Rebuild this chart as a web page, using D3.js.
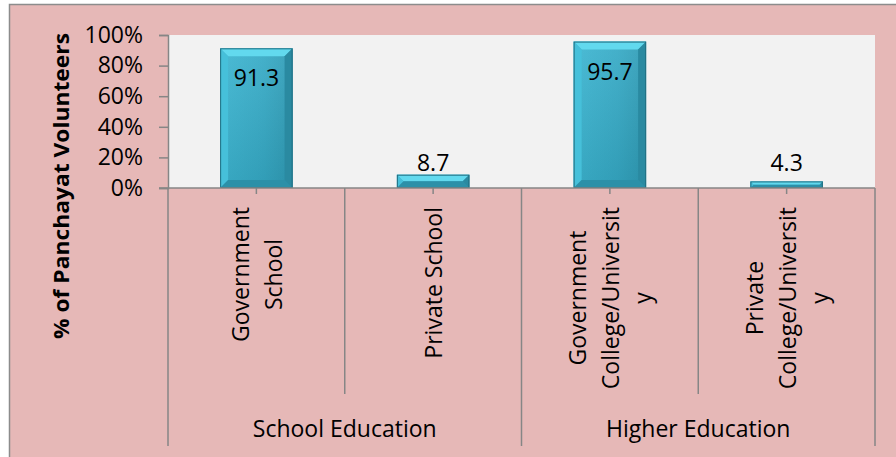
<!DOCTYPE html>
<html>
<head>
<meta charset="utf-8">
<script src="https://cdn.jsdelivr.net/npm/d3@7"></script>
<style>
  html, body { margin: 0; padding: 0; background: #ffffff; }
  svg { display: block; font-family: "Open Sans", "Noto Sans", sans-serif; }
</style>
</head>
<body>
<svg id="chart" width="896" height="457"></svg>
<script>
// Share of panchayat volunteers by type of institution attended
const categories = ["Government School", "Private School", "Government College/University", "Private College/University"];
const categoryLines = [["Government", "School"], ["Private School"], ["Government", "College/Universit", "y"], ["Private", "College/Universit", "y"]];
const groups = ["School Education", "Higher Education"];
const groupOf = [0, 0, 1, 1];
const values = [91.3, 8.7, 95.7, 4.3];
const yTicks = [0, 20, 40, 60, 80, 100];
const yTitle = "% of Panchayat Volunteers";

const svg = d3.select("#chart");
const W = 896, H = 457;
const plot = { left: 168, right: 875, top: 35, bottom: 188 };
const FS = 23;

// chart background with frame
svg.append("rect").attr("x", 0).attr("y", 0).attr("width", W).attr("height", H).attr("fill", "#ffffff");
svg.append("rect").attr("x", 9.5).attr("y", 4.5).attr("width", W).attr("height", H)
  .attr("fill", "#e6b8b7").attr("stroke", "#8c8c8c").attr("stroke-width", 1.5);

// plot area
svg.append("rect").attr("x", plot.left).attr("y", plot.top)
  .attr("width", plot.right - plot.left).attr("height", plot.bottom - plot.top)
  .attr("fill", "#f2f2f2");

const x = d3.scaleBand().domain(categories).range([plot.left, plot.right])
  .paddingInner(0.59).paddingOuter(0.295);
const y = d3.scaleLinear().domain([0, 100]).range([plot.bottom, plot.top]);

// y axis
const yAxis = svg.append("g").attr("transform", `translate(${plot.left},0)`)
  .call(d3.axisLeft(y).tickValues(yTicks).tickFormat(d => d + "%").tickSize(9).tickPadding(16));
yAxis.select(".domain").attr("stroke", "#868686").attr("stroke-width", 1.5);
yAxis.selectAll(".tick line").attr("stroke", "#868686").attr("stroke-width", 1.5);
yAxis.selectAll(".tick text").attr("font-size", FS).attr("fill", "#000")
  .attr("font-family", "'Open Sans', sans-serif");

// y title
svg.append("text")
  .attr("transform", `translate(61,186) rotate(-90)`)
  .attr("text-anchor", "middle").attr("dominant-baseline", "central")
  .attr("font-size", 21).attr("font-weight", "bold").attr("fill", "#000")
  .attr("textLength", 306).attr("lengthAdjust", "spacingAndGlyphs")
  .text(yTitle);

// bar gradients
const defs = svg.append("defs");
const g1 = defs.append("linearGradient").attr("id", "barBody").attr("x1", 0).attr("x2", 1).attr("y1", 0).attr("y2", 0);
g1.append("stop").attr("offset", "0%").attr("stop-color", "#3cb6d2");
g1.append("stop").attr("offset", "60%").attr("stop-color", "#35aac6");
g1.append("stop").attr("offset", "100%").attr("stop-color", "#2e9bb5");
const g2 = defs.append("linearGradient").attr("id", "barBodyV").attr("x1", 0).attr("x2", 0).attr("y1", 0).attr("y2", 1);
g2.append("stop").attr("offset", "0%").attr("stop-color", "#ffffff").attr("stop-opacity", 0.08);
g2.append("stop").attr("offset", "100%").attr("stop-color", "#000000").attr("stop-opacity", 0.08);

// bevelled bars
const bars = svg.append("g").selectAll("g").data(categories).join("g");
bars.each(function (c, i) {
  const gEl = d3.select(this);
  const x0 = x(c), w = x.bandwidth();
  const y0 = y(values[i]), y1 = y(0);
  const h = y1 - y0;
  const b = Math.min(8, h / 2, w / 2);
  gEl.append("rect").attr("x", x0).attr("y", y0).attr("width", w).attr("height", h).attr("fill", "url(#barBody)");
  gEl.append("rect").attr("x", x0).attr("y", y0).attr("width", w).attr("height", h).attr("fill", "url(#barBodyV)");
  const face = (pts, col) => gEl.append("polygon").attr("points", pts.map(p => p.join(",")).join(" ")).attr("fill", col);
  // top bevel
  face([[x0, y0], [x0 + w, y0], [x0 + w - b, y0 + b], [x0 + b, y0 + b]], "#62d9ee");
  // left bevel
  face([[x0, y0], [x0 + b, y0 + b], [x0 + b, y1 - b], [x0, y1]], "#46c0da");
  // right bevel
  face([[x0 + w, y0], [x0 + w, y1], [x0 + w - b, y1 - b], [x0 + w - b, y0 + b]], "#2a8aa1");
  // bottom bevel
  face([[x0, y1], [x0 + b, y1 - b], [x0 + w - b, y1 - b], [x0 + w, y1]], "#2c90a8");
  if (h < 20) {
    // short bars: brighter face in the middle
    gEl.append("rect").attr("x", x0 + b).attr("y", y0 + b).attr("width", w - 2 * b).attr("height", Math.max(0, h - 2 * b))
      .attr("fill", "#4fcbe3");
  }
  gEl.append("rect").attr("x", x0 + 0.5).attr("y", y0 + 0.5).attr("width", w - 1).attr("height", h - 1)
    .attr("fill", "none").attr("stroke", "#216f82").attr("stroke-width", 1);
});

// value labels
svg.append("g").selectAll("text").data(categories).join("text")
  .attr("x", c => x(c) + x.bandwidth() / 2)
  .attr("y", (c, i) => values[i] > 50 ? y(values[i]) + 29 : Math.min(y(values[i]), y(10)) - 11)
  .attr("text-anchor", "middle").attr("dominant-baseline", "central")
  .attr("font-size", FS).attr("fill", "#000")
  .text((c, i) => values[i]);

// category axis
const axisCol = "#868686";
svg.append("line").attr("x1", plot.left - 9).attr("x2", plot.right).attr("y1", plot.bottom).attr("y2", plot.bottom)
  .attr("stroke", axisCol).attr("stroke-width", 1.5);
const step = x.step();
// tick marks at category centres
svg.append("g").selectAll("line").data(categories).join("line")
  .attr("x1", c => x(c) + x.bandwidth() / 2).attr("x2", c => x(c) + x.bandwidth() / 2)
  .attr("y1", plot.bottom).attr("y2", plot.bottom + 6)
  .attr("stroke", axisCol).attr("stroke-width", 1.5);
// separators between categories and groups
const seps = d3.range(categories.length + 1).map(k => {
  const isGroupEdge = k === 0 || k === categories.length || groupOf[k] !== groupOf[k - 1];
  return { x: plot.left + k * step, end: isGroupEdge ? 446 : 394 };
});
svg.append("g").selectAll("line").data(seps).join("line")
  .attr("x1", d => d.x).attr("x2", d => d.x).attr("y1", plot.bottom).attr("y2", d => d.end)
  .attr("stroke", axisCol).attr("stroke-width", 1.5);

// rotated category labels (block aligned to the axis, lines centred)
const labelTop = 207, lineGap = 32.5;
const catLabels = svg.append("g").selectAll("text").data(categories).join("text")
  .attr("font-size", FS).attr("fill", "#000")
  .attr("text-anchor", "middle").attr("dominant-baseline", "central");
catLabels.each(function (c, i) {
  const t = d3.select(this);
  const lines = categoryLines[i];
  const cx = x(c) + x.bandwidth() / 2;
  // measure longest line to centre the block
  const probe = svg.append("text").attr("font-size", FS).attr("visibility", "hidden");
  let maxW = 0;
  lines.forEach(l => { probe.text(l); maxW = Math.max(maxW, probe.node().getComputedTextLength()); });
  probe.remove();
  const cy = labelTop + maxW / 2;
  t.attr("transform", `translate(${cx},${cy}) rotate(-90)`);
  lines.forEach((l, j) => {
    t.append("tspan").attr("x", 0).attr("y", (j - (lines.length - 1) / 2) * lineGap).text(l);
  });
});

// group labels
svg.append("g").selectAll("text").data(groups).join("text")
  .attr("x", (g, gi) => {
    const idx = categories.filter((c, i) => groupOf[i] === gi);
    return (x(idx[0]) + x(idx[idx.length - 1]) + x.bandwidth()) / 2;
  })
  .attr("y", 428)
  .attr("text-anchor", "middle").attr("dominant-baseline", "central")
  .attr("font-size", FS).attr("fill", "#000")
  .text(g => g);
</script>
</body>
</html>
